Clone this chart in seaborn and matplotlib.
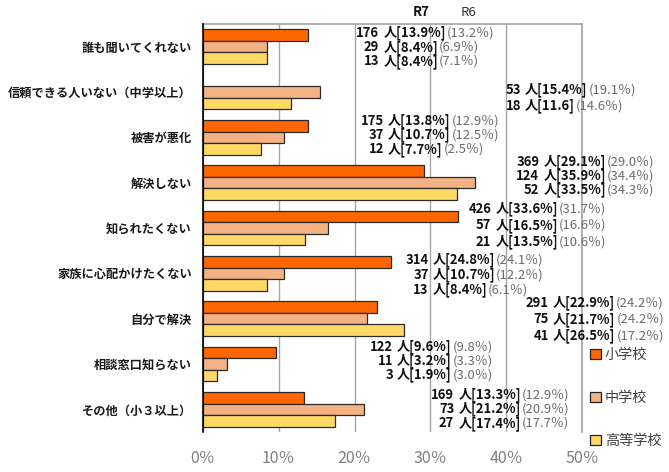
import numpy as np
import pandas as pd
import seaborn as sns
import matplotlib.pyplot as plt
from matplotlib.patches import Patch

# ---- data -------------------------------------------------------------
categories = [
    "誰も聞いてくれない",
    "信頼できる人いない（中学以上）",
    "被害が悪化",
    "解決しない",
    "知られたくない",
    "家族に心配かけたくない",
    "自分で解決",
    "相談窓口知らない",
    "その他（小３以上）",
]
schools = ["小学校", "中学校", "高等学校"]

# R7 share of respondents (%)
elem_pct = [13.9, np.nan, 13.8, 29.1, 33.6, 24.8, 22.9, 9.6, 13.3]
junior_pct = [8.4, 15.4, 10.7, 35.9, 16.5, 10.7, 21.7, 3.2, 21.2]
high_pct = [8.4, 11.6, 7.7, 33.5, 13.5, 8.4, 26.5, 1.9, 17.4]

# R7 head counts
elem_n = [176, None, 175, 369, 426, 314, 291, 122, 169]
junior_n = [29, 53, 37, 124, 57, 37, 75, 11, 73]
high_n = [13, 18, 12, 52, 21, 13, 41, 3, 27]

# R6 share (%)
elem_prev = [13.2, None, 12.9, 29.0, 31.7, 24.1, 24.2, 9.8, 12.9]
junior_prev = [6.9, 19.1, 12.5, 34.4, 16.6, 12.2, 24.2, 3.3, 20.9]
high_prev = [7.1, 14.6, 2.5, 34.3, 10.6, 6.1, 17.2, 3.0, 17.7]

x_ticks = [0, 10, 20, 30, 40, 50]

# ---- layout of the value labels (x of "人" in %, first line offset, step) ----
label_x = [23.8, 42.5, 24.4, 44.9, 38.6, 30.3, 46.2, 25.6, 33.7]
label_y0 = [-0.30, -0.05, -0.367, -0.462, -0.419, -0.294, -0.352, -0.38, -0.316]
label_step = [0.313, 0.353, 0.316, 0.312, 0.36, 0.331, 0.364, 0.31, 0.312]

colors = {"小学校": "#FF6600", "中学校": "#F4B183", "高等学校": "#FFD966"}

pct = {"小学校": elem_pct, "中学校": junior_pct, "高等学校": high_pct}
cnt = {"小学校": elem_n, "中学校": junior_n, "高等学校": high_n}
prev = {"小学校": elem_prev, "中学校": junior_prev, "高等学校": high_prev}

rows = []
for s in schools:
    for c, v in zip(categories, pct[s]):
        rows.append({"category": c, "school": s, "pct": v})
df = pd.DataFrame(rows)

# ---- figure -----------------------------------------------------------
sns.set_theme(style="white")
plt.rcParams["font.family"] = ["Noto Sans CJK JP", "DejaVu Sans"]

W, H = 669, 472
fig = plt.figure(figsize=(W / 100, H / 100), dpi=100)
ax = fig.add_axes([203 / W, 1 - 432 / H, (582 - 203) / W, (432 - 24) / H])

sns.barplot(
    data=df, y="category", x="pct", hue="school", order=categories,
    hue_order=schools, palette=colors, saturation=1, orient="h", width=0.76,
    edgecolor="#2a2a2a", linewidth=0.9, errorbar=None, ax=ax, legend=False,
    zorder=3,
)

ax.set_xlim(0, 50)
ax.set_ylim(len(categories) - 0.5, -0.5)
ax.set_xticks(x_ticks)
ax.set_xticklabels([f"{t}％" for t in x_ticks], fontsize=11.5, color="#7f7f7f")
ax.set_xlabel("")
ax.set_ylabel("")
ax.tick_params(axis="x", length=0, pad=13)
ax.tick_params(axis="y", length=0, pad=8)
for lab in ax.get_yticklabels():
    lab.set_fontsize(8.8)
    lab.set_fontweight("bold")
    lab.set_color("#1a1a1a")

ax.grid(axis="x", color="#a6a6a6", linewidth=1.0, zorder=0)
ax.grid(axis="y", visible=False)
ax.set_axisbelow(True)
ax.spines["left"].set_color("#000000")
ax.spines["left"].set_linewidth(1.2)
ax.spines["left"].set_zorder(4)
ax.spines["top"].set_color("#a6a6a6")
ax.spines["right"].set_color("#a6a6a6")
ax.spines["bottom"].set_visible(False)

# ---- value labels -----------------------------------------------------
missing_pct_sign = {(1, "高等学校")}
for i in range(len(categories)):
    line = 0
    for s in schools:
        n = cnt[s][i]
        if n is None:
            continue
        y = i + label_y0[i] + line * label_step[i]
        line += 1
        ax.annotate(str(n), xy=(label_x[i], y), xytext=(-3, 0),
                    textcoords="offset points", ha="right", va="center",
                    fontsize=9.4, fontweight="bold", color="#111111")
        bracket = f"人[{pct[s][i]:.1f}]" if (i, s) in missing_pct_sign \
            else f"人[{pct[s][i]:.1f}%]"
        t2 = ax.text(label_x[i], y, bracket, ha="left", va="center",
                     fontsize=9.4, fontweight="bold", color="#111111")
        ax.annotate(f"({prev[s][i]:.1f}％)", xy=(1, 0.5), xycoords=t2,
                    xytext=(0.5, 0), textcoords="offset points",
                    ha="left", va="center", fontsize=9.4, color="#6b6b6b")

# ---- headers ----------------------------------------------------------
fig.text(421 / W, 1 - 12 / H, "R7", ha="center", va="center",
         fontsize=9.5, fontweight="bold", color="#111111")
fig.text(469 / W, 1 - 12 / H, "R6", ha="center", va="center",
         fontsize=9.5, color="#333333")

# ---- legend -----------------------------------------------------------
handles = [Patch(facecolor=colors[s], edgecolor="#222222", linewidth=0.9)
           for s in schools]
fig.legend(handles, schools, loc="upper left",
           bbox_to_anchor=(590 / W, 1 - 348 / H), frameon=False,
           fontsize=10.2, handlelength=0.75, handleheight=0.75,
           handletextpad=0.3, labelspacing=2.05, labelcolor="#404040",
           borderpad=0, borderaxespad=0)

fig.savefig("out.png", dpi=100)
